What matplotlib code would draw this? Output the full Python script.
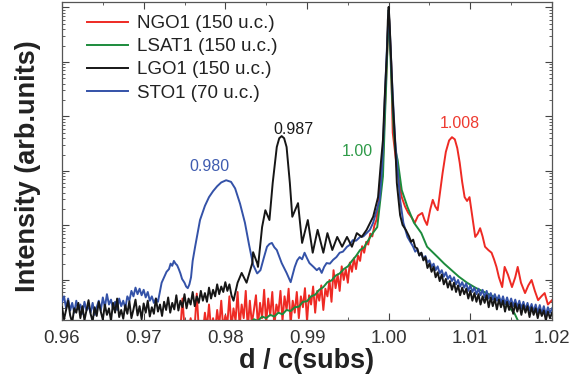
import numpy as np
import matplotlib
matplotlib.use("Agg")
import matplotlib.pyplot as plt
from matplotlib.ticker import MultipleLocator, FormatStrFormatter, LogLocator, NullFormatter

plt.rcParams['font.family'] = ['Liberation Sans', 'DejaVu Sans']

# ---- data: (d/c(subs), log10 intensity) ----
ngo1 = [
    (0.97450, 0.10), (0.97475, 0.66), (0.97500, 0.12), (0.97525, 0.20), (0.97550, 0.05), (0.97575, 0.30),
    (0.97600, 0.10), (0.97625, 0.15), (0.97650, 0.75), (0.97675, 0.10), (0.97700, 0.25), (0.97725, 0.05),
    (0.97750, 0.40), (0.97775, 0.12), (0.97800, 0.55), (0.97825, 0.10), (0.97850, 0.30), (0.97875, 0.08),
    (0.97900, 0.45), (0.97925, 0.15), (0.97950, 0.62), (0.97975, 0.10), (0.98000, 0.35), (0.98025, 0.20),
    (0.98050, 0.70), (0.98075, 0.12), (0.98100, 0.48), (0.98125, 0.25), (0.98150, 0.78), (0.98175, 0.15),
    (0.98200, 0.55), (0.98225, 0.30), (0.98250, 0.80), (0.98275, 0.10), (0.98300, 0.62), (0.98325, 0.20),
    (0.98350, 0.45), (0.98375, 0.72), (0.98400, 0.15), (0.98425, 0.58), (0.98450, 0.30), (0.98475, 0.82),
    (0.98500, 0.20), (0.98525, 0.66), (0.98550, 0.35), (0.98575, 0.78), (0.98600, 0.15), (0.98625, 0.55),
    (0.98650, 0.40), (0.98675, 0.80), (0.98700, 0.25), (0.98725, 0.70), (0.98750, 0.45), (0.98775, 0.84),
    (0.98800, 0.20), (0.98825, 0.62), (0.98850, 0.40), (0.98875, 0.78), (0.98900, 0.30), (0.98925, 0.70),
    (0.98950, 0.50), (0.98975, 0.85), (0.99000, 0.25), (0.99025, 0.72), (0.99050, 0.55), (0.99075, 0.88),
    (0.99100, 0.40), (0.99125, 0.80), (0.99150, 0.62), (0.99175, 0.90), (0.99200, 0.45), (0.99225, 0.84),
    (0.99250, 0.70), (0.99275, 1.00), (0.99300, 0.60), (0.99325, 1.18), (0.99350, 0.85), (0.99375, 1.10),
    (0.99400, 0.80), (0.99425, 1.25), (0.99450, 1.00), (0.99475, 1.20), (0.99500, 0.95), (0.99525, 1.32),
    (0.99550, 1.15), (0.99575, 1.40), (0.99600, 1.20), (0.99625, 1.45), (0.99650, 1.35), (0.99675, 1.62),
    (0.99700, 1.50), (0.99725, 1.70), (0.99750, 1.65), (0.99775, 1.85), (0.99800, 1.80), (0.99825, 2.00),
    (0.99850, 2.10), (0.99875, 2.40), (0.99900, 2.90), (0.99930, 3.20), (0.99950, 4.00), (0.99980, 5.10),
    (1.00000, 5.95), (1.00030, 5.00), (1.00050, 3.70), (1.00100, 3.07), (1.00160, 2.52), (1.00200, 2.35),
    (1.00240, 2.23), (1.00280, 2.15), (1.00320, 2.05), (1.00360, 2.18), (1.00410, 2.23), (1.00440, 2.10),
    (1.00470, 2.01), (1.00510, 2.30), (1.00540, 2.47), (1.00570, 2.35), (1.00600, 2.28), (1.00630, 2.62),
    (1.00660, 2.96), (1.00700, 3.35), (1.00740, 3.56), (1.00775, 3.62), (1.00810, 3.58), (1.00840, 3.42),
    (1.00870, 3.15), (1.00900, 2.80), (1.00930, 2.52), (1.00960, 2.45), (1.00990, 2.52), (1.01030, 2.10),
    (1.01060, 1.79), (1.01090, 1.85), (1.01120, 1.95), (1.01150, 1.80), (1.01180, 1.61), (1.01220, 1.55),
    (1.01260, 1.50), (1.01290, 1.38), (1.01320, 1.24), (1.01350, 1.05), (1.01390, 0.87), (1.01420, 1.24),
    (1.01460, 1.10), (1.01510, 0.87), (1.01550, 1.05), (1.01580, 1.24), (1.01620, 0.95), (1.01670, 0.76),
    (1.01710, 0.90), (1.01750, 1.00), (1.01790, 0.80), (1.01830, 0.63), (1.01870, 0.70), (1.01910, 0.76),
    (1.01950, 0.55), (1.02000, 0.63),
]

lsat1 = [
    (0.9830, 0.20), (0.9835, 0.28), (0.9840, 0.25), (0.9845, 0.33), (0.9850, 0.30), (0.9855, 0.36),
    (0.9860, 0.33), (0.9865, 0.40), (0.9870, 0.37), (0.9875, 0.45), (0.9880, 0.43), (0.9885, 0.50),
    (0.9890, 0.51), (0.9895, 0.60), (0.9900, 0.61), (0.9905, 0.70), (0.9910, 0.73), (0.9915, 0.82),
    (0.9920, 0.87), (0.9925, 0.96), (0.9930, 0.99), (0.9935, 1.08), (0.9940, 1.12), (0.9945, 1.20),
    (0.9950, 1.25), (0.9955, 1.35), (0.9960, 1.44), (0.9965, 1.55), (0.9970, 1.60), (0.9973, 1.68),
    (0.9980, 1.85), (0.9986, 1.97), (0.9990, 2.50), (0.9993, 2.90), (0.9995, 3.80), (0.9997, 4.60),
    (0.9999, 5.50), (1.0000, 5.95), (1.0002, 5.20), (1.0004, 4.40), (1.0006, 3.80), (1.0008, 3.40),
    (1.0011, 3.20), (1.0016, 2.65), (1.0023, 2.34), (1.0031, 2.05), (1.0040, 1.86), (1.0047, 1.61),
    (1.0060, 1.42), (1.0068, 1.30), (1.0077, 1.18), (1.0086, 1.06), (1.0096, 0.95), (1.0106, 0.86),
    (1.0117, 0.78), (1.0128, 0.70), (1.0138, 0.63), (1.0146, 0.52), (1.0154, 0.39), (1.0160, 0.20),
]

lgo1 = [
    (0.96000, 0.50), (0.96025, 0.28), (0.96050, 0.45), (0.96075, 0.62), (0.96100, 0.35), (0.96125, 0.22),
    (0.96150, 0.48), (0.96175, 0.40), (0.96200, 0.58), (0.96225, 0.30), (0.96250, 0.52), (0.96275, 0.26),
    (0.96300, 0.44), (0.96325, 0.63), (0.96350, 0.38), (0.96375, 0.24), (0.96400, 0.50), (0.96425, 0.34),
    (0.96450, 0.60), (0.96475, 0.42), (0.96500, 0.27), (0.96525, 0.55), (0.96550, 0.36), (0.96575, 0.48),
    (0.96600, 0.25), (0.96625, 0.58), (0.96650, 0.40), (0.96675, 0.66), (0.96700, 0.32), (0.96725, 0.45),
    (0.96750, 0.29), (0.96775, 0.54), (0.96800, 0.38), (0.96825, 0.61), (0.96850, 0.30), (0.96875, 0.46),
    (0.96900, 0.64), (0.96925, 0.35), (0.96950, 0.52), (0.96975, 0.28), (0.97000, 0.57), (0.97025, 0.40),
    (0.97050, 0.62), (0.97075, 0.33), (0.97100, 0.50), (0.97125, 0.38), (0.97150, 0.66), (0.97175, 0.42),
    (0.97200, 0.55), (0.97225, 0.34), (0.97250, 0.60), (0.97275, 0.45), (0.97300, 0.68), (0.97325, 0.40),
    (0.97350, 0.58), (0.97375, 0.46), (0.97400, 0.72), (0.97425, 0.44), (0.97450, 0.62), (0.97475, 0.50),
    (0.97500, 0.74), (0.97525, 0.48), (0.97550, 0.66), (0.97575, 0.55), (0.97600, 0.78), (0.97625, 0.52),
    (0.97650, 0.70), (0.97675, 0.58), (0.97700, 0.80), (0.97725, 0.62), (0.97750, 0.76), (0.97775, 0.60),
    (0.97800, 0.86), (0.97825, 0.66), (0.97850, 0.82), (0.97875, 0.70), (0.97900, 0.92), (0.97925, 0.74),
    (0.97950, 0.88), (0.97975, 0.78), (0.98000, 0.96), (0.98025, 0.80), (0.98050, 0.92), (0.98075, 0.72),
    (0.98100, 0.62), (0.98150, 0.95), (0.98200, 1.13), (0.98260, 0.95), (0.98330, 1.31), (0.98340, 1.51),
    (0.98390, 1.31), (0.98400, 1.24), (0.98450, 1.97), (0.98490, 2.28), (0.98540, 2.10), (0.98580, 2.78),
    (0.98630, 3.44), (0.98660, 3.60), (0.98690, 3.64), (0.98720, 3.60), (0.98750, 3.44), (0.98790, 2.78),
    (0.98820, 2.16), (0.98890, 2.41), (0.98940, 1.68), (0.99010, 2.10), (0.99070, 1.50), (0.99130, 1.92),
    (0.99200, 1.50), (0.99250, 1.86), (0.99310, 1.55), (0.99370, 1.79), (0.99430, 1.61), (0.99490, 1.79),
    (0.99550, 1.61), (0.99610, 1.86), (0.99670, 1.79), (0.99730, 1.92), (0.99810, 2.16), (0.99870, 2.52),
    (0.99900, 3.07), (0.99930, 3.57), (0.99950, 4.30), (0.99980, 5.22), (0.99990, 5.77), (1.00000, 6.01),
    (1.00010, 5.77), (1.00030, 5.04), (1.00050, 4.30), (1.00080, 3.50), (1.00100, 2.78), (1.00140, 2.19),
    (1.00170, 2.01), (1.00210, 1.92), (1.00250, 1.80), (1.00275, 1.70), (1.00300, 1.74), (1.00325, 1.60),
    (1.00350, 1.58), (1.00375, 1.45), (1.00400, 1.50), (1.00425, 1.36), (1.00450, 1.42), (1.00475, 1.22),
    (1.00500, 1.30), (1.00525, 1.15), (1.00550, 1.24), (1.00575, 1.05), (1.00600, 1.14), (1.00625, 0.98),
    (1.00650, 1.10), (1.00675, 0.92), (1.00700, 1.02), (1.00725, 0.86), (1.00750, 0.98), (1.00775, 0.82),
    (1.00800, 0.95), (1.00825, 0.78), (1.00850, 0.90), (1.00875, 0.72), (1.00900, 0.86), (1.00925, 0.74),
    (1.00950, 0.84), (1.00975, 0.66), (1.01000, 0.80), (1.01025, 0.62), (1.01050, 0.76), (1.01075, 0.60),
    (1.01100, 0.74), (1.01125, 0.55), (1.01150, 0.70), (1.01175, 0.58), (1.01200, 0.72), (1.01225, 0.50),
    (1.01250, 0.68), (1.01275, 0.52), (1.01300, 0.66), (1.01325, 0.46), (1.01350, 0.64), (1.01375, 0.50),
    (1.01400, 0.62), (1.01425, 0.42), (1.01450, 0.60), (1.01475, 0.45), (1.01500, 0.58), (1.01525, 0.38),
    (1.01550, 0.57), (1.01575, 0.42), (1.01600, 0.55), (1.01625, 0.36), (1.01650, 0.54), (1.01675, 0.40),
    (1.01700, 0.52), (1.01725, 0.32), (1.01750, 0.50), (1.01775, 0.36), (1.01800, 0.48), (1.01825, 0.30),
    (1.01850, 0.46), (1.01875, 0.34), (1.01900, 0.44), (1.01925, 0.26), (1.01950, 0.42), (1.01975, 0.30),
    (1.02000, 0.40),
]

sto1 = [
    (0.96000, 0.60), (0.96025, 0.70), (0.96050, 0.48), (0.96075, 0.66), (0.96100, 0.44), (0.96125, 0.58),
    (0.96150, 0.40), (0.96175, 0.62), (0.96200, 0.46), (0.96225, 0.55), (0.96250, 0.38), (0.96275, 0.60),
    (0.96300, 0.44), (0.96325, 0.52), (0.96350, 0.40), (0.96375, 0.58), (0.96400, 0.36), (0.96425, 0.50),
    (0.96450, 0.62), (0.96475, 0.44), (0.96500, 0.68), (0.96525, 0.50), (0.96550, 0.74), (0.96575, 0.55),
    (0.96600, 0.64), (0.96625, 0.47), (0.96650, 0.60), (0.96675, 0.45), (0.96700, 0.66), (0.96725, 0.52),
    (0.96750, 0.62), (0.96775, 0.48), (0.96800, 0.70), (0.96825, 0.62), (0.96850, 0.80), (0.96875, 0.70),
    (0.96900, 0.86), (0.96925, 0.74), (0.96950, 0.84), (0.96975, 0.72), (0.97000, 0.82), (0.97025, 0.68),
    (0.97050, 0.78), (0.97075, 0.62), (0.97100, 0.70), (0.97125, 0.58), (0.97150, 0.66), (0.97175, 0.60),
    (0.97220, 0.95), (0.97250, 1.05), (0.97280, 1.15), (0.97310, 1.20), (0.97330, 1.30), (0.97350, 1.26),
    (0.97370, 1.35), (0.97390, 1.30), (0.97410, 1.27), (0.97430, 1.20), (0.97450, 1.12), (0.97470, 1.02),
    (0.97500, 0.95), (0.97520, 0.88), (0.97540, 0.85), (0.97560, 0.92), (0.97580, 1.05), (0.97600, 1.35),
    (0.97630, 1.61), (0.97690, 2.10), (0.97750, 2.36), (0.97800, 2.52), (0.97850, 2.63), (0.97900, 2.72),
    (0.97950, 2.79), (0.98010, 2.83), (0.98070, 2.80), (0.98120, 2.68), (0.98180, 2.40), (0.98240, 2.05),
    (0.98290, 1.65), (0.98340, 1.28), (0.98390, 1.12), (0.98430, 1.18), (0.98470, 1.40), (0.98510, 1.61),
    (0.98540, 1.66), (0.98570, 1.68), (0.98600, 1.60), (0.98630, 1.55), (0.98690, 1.31), (0.98750, 1.13),
    (0.98800, 0.96), (0.98850, 1.24), (0.98880, 1.36), (0.98910, 1.42), (0.98940, 1.38), (0.98970, 1.50),
    (0.99000, 1.40), (0.99030, 1.31), (0.99080, 1.24), (0.99120, 1.18), (0.99150, 1.22), (0.99180, 1.13),
    (0.99210, 1.24), (0.99240, 1.31), (0.99280, 1.30), (0.99320, 1.37), (0.99360, 1.42), (0.99400, 1.50),
    (0.99440, 1.52), (0.99490, 1.61), (0.99520, 1.64), (0.99560, 1.73), (0.99600, 1.72), (0.99650, 1.79),
    (0.99690, 1.80), (0.99730, 1.86), (0.99770, 1.92), (0.99810, 2.05), (0.99890, 2.47), (0.99920, 3.07),
    (0.99940, 3.80), (0.99960, 4.60), (0.99980, 5.30), (1.00000, 5.95), (1.00020, 5.40), (1.00040, 4.70),
    (1.00060, 4.10), (1.00080, 3.55), (1.00100, 3.20), (1.00140, 2.47), (1.00180, 2.05), (1.00230, 1.79),
    (1.00300, 1.61), (1.00325, 1.52), (1.00350, 1.56), (1.00375, 1.45), (1.00400, 1.50), (1.00425, 1.38),
    (1.00450, 1.44), (1.00475, 1.32), (1.00500, 1.36), (1.00525, 1.24), (1.00550, 1.30), (1.00575, 1.18),
    (1.00600, 1.25), (1.00625, 1.12), (1.00650, 1.18), (1.00675, 1.06), (1.00700, 1.14), (1.00725, 1.02),
    (1.00750, 1.08), (1.00775, 0.98), (1.00800, 1.05), (1.00825, 0.92), (1.00850, 1.00), (1.00875, 0.88),
    (1.00900, 0.96), (1.00925, 0.86), (1.00950, 0.94), (1.00975, 0.80), (1.01000, 0.90), (1.01025, 0.78),
    (1.01050, 0.86), (1.01075, 0.74), (1.01100, 0.84), (1.01125, 0.72), (1.01150, 0.82), (1.01175, 0.68),
    (1.01200, 0.80), (1.01225, 0.66), (1.01250, 0.76), (1.01275, 0.64), (1.01300, 0.74), (1.01325, 0.62),
    (1.01350, 0.72), (1.01375, 0.58), (1.01400, 0.70), (1.01425, 0.56), (1.01450, 0.68), (1.01475, 0.55),
    (1.01500, 0.66), (1.01525, 0.52), (1.01550, 0.64), (1.01575, 0.50), (1.01600, 0.62), (1.01625, 0.48),
    (1.01650, 0.60), (1.01675, 0.46), (1.01700, 0.58), (1.01725, 0.44), (1.01750, 0.56), (1.01775, 0.42),
    (1.01800, 0.55), (1.01825, 0.40), (1.01850, 0.54), (1.01875, 0.38), (1.01900, 0.52), (1.01925, 0.36),
    (1.01950, 0.50), (1.01975, 0.40), (1.02000, 0.48),
]

series_labels = ["NGO1 (150 u.c.)", "LSAT1 (150 u.c.)", "LGO1 (150 u.c.)", "STO1 (70 u.c.)"]
series_colors = ["#EE2A24", "#1C8B3C", "#161616", "#3452A8"]

peak_labels = ["0.980", "0.987", "1.00", "1.008"]
peak_label_pos = [(0.9781, 3.09), (0.9884, 3.77), (0.9962, 3.35), (1.0087, 3.88)]
peak_label_colors = ["#3F5CB0", "#1A1A1A", "#2E9A48", "#EE3A30"]

xticks = [0.96, 0.97, 0.98, 0.99, 1.00, 1.01, 1.02]

# ---- figure ----
fig = plt.figure(figsize=(5.69, 3.85), dpi=100)
ax = fig.add_axes([62/569, 1 - 320/385, 490/569, 318/385])

lines = {}
for name, data, lab, col in zip(["ngo", "lsat", "lgo", "sto"], [ngo1, lsat1, lgo1, sto1],
                                series_labels, series_colors):
    arr = np.array(data)
    ln, = ax.plot(arr[:, 0], 10 ** arr[:, 1], color=col, lw=1.4, label=lab)
    lines[name] = ln
# drawing order: red, green, blue, black on top
lines["ngo"].set_zorder(2)
lines["lsat"].set_zorder(3)
lines["sto"].set_zorder(4)
lines["lgo"].set_zorder(5)

ax.set_yscale("log")
ax.set_xlim(0.96, 1.02)
ax.set_ylim(10 ** 0.266, 10 ** 6.1)

ax.set_xticks(xticks)
ax.xaxis.set_major_formatter(FormatStrFormatter("%.2f"))
ax.xaxis.set_minor_locator(MultipleLocator(0.005))
ax.yaxis.set_major_locator(LogLocator(base=10, numticks=20))
ax.yaxis.set_minor_locator(LogLocator(base=10, subs=np.arange(2, 10), numticks=20))
ax.yaxis.set_major_formatter(NullFormatter())
ax.yaxis.set_minor_formatter(NullFormatter())

ax.tick_params(which="both", direction="in", top=True, right=True, colors="#444444",
               labelcolor="#333333", labelsize=13.5)
ax.tick_params(which="major", length=5, width=0.8)
ax.tick_params(which="minor", length=2.5, width=0.6)
ax.tick_params(axis="x", pad=7)
for sp in ax.spines.values():
    sp.set_color("#555555")
    sp.set_linewidth(0.9)

ax.set_xlabel("d / c(subs)", fontsize=19.5, fontweight="bold", color="#222222")
ax.xaxis.set_label_coords(0.499, -0.13)
ax.xaxis.label.set_verticalalignment("center")
ax.set_ylabel("Intensity (arb.units)", fontsize=19.5, fontweight="bold", color="#222222")
ax.yaxis.set_label_coords(-34/490, 0.483)
ax.yaxis.label.set_verticalalignment("center")

for txt, (px, pl), col in zip(peak_labels, peak_label_pos, peak_label_colors):
    ax.text(px, 10 ** pl, txt, color=col, fontsize=11.5, ha="center", va="center")

handles = [lines["ngo"], lines["lsat"], lines["lgo"], lines["sto"]]
leg = ax.legend(handles=handles, labels=series_labels, loc="upper left",
                bbox_to_anchor=(25/490, 1 - 13/318), frameon=False, fontsize=13.5,
                handlelength=2.2, handletextpad=0.45, labelspacing=0.32,
                borderpad=0, borderaxespad=0)
for t in leg.get_texts():
    t.set_color("#222222")

fig.savefig("out.png", dpi=100)
